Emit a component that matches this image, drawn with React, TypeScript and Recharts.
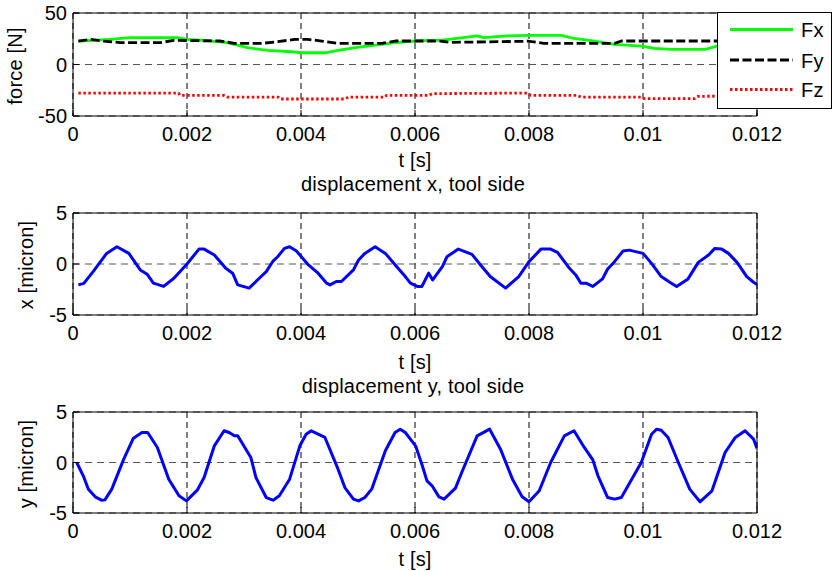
import React from 'react';
import { LineChart, Line, XAxis, YAxis, CartesianGrid } from 'recharts';

// ---------- axis ticks ----------
const timeTicks = [0, 0.002, 0.004, 0.006, 0.008, 0.01, 0.012];
const forceTicks = [-50, 0, 50];
const dispTicks = [-5, 0, 5];

// ---------- force series ----------
const fxTime = [0.000094, 0.00036, 0.00065, 0.001, 0.00183, 0.002, 0.0023, 0.00271, 0.00306, 0.00342, 0.00383, 0.004, 0.00442, 0.00465, 0.00495, 0.0053, 0.00565, 0.006, 0.00624, 0.00644, 0.00674, 0.00709, 0.0072, 0.00762, 0.00797, 0.00856, 0.00879, 0.00915, 0.0095, 0.00997, 0.0102, 0.0105, 0.01109, 0.0113, 0.0116, 0.012];
const fxValue = [22.8, 23.5, 24.4, 26, 26, 24.4, 23.5, 21.2, 16.3, 13.7, 12.4, 11.4, 11.4, 13.7, 16.3, 18.9, 21.2, 22.8, 23.5, 23.5, 25.4, 27.7, 26, 27.7, 28.3, 28.3, 25.4, 22.8, 19.5, 17.9, 15.6, 14.7, 14.7, 17.9, 19, 20];

const fyTime = [0.000094, 0.0003, 0.00054, 0.00083, 0.00153, 0.00177, 0.00259, 0.00283, 0.0033, 0.00359, 0.00389, 0.00412, 0.00436, 0.00465, 0.00542, 0.00565, 0.00644, 0.00662, 0.0079, 0.00797, 0.00826, 0.0095, 0.00962, 0.012];
const fyValue = [22.8, 24.4, 22.8, 21.2, 21.2, 23.5, 22.8, 20.5, 20.5, 22.1, 24.4, 24.4, 22.8, 20.5, 20.5, 22.8, 22.8, 21.5, 22.5, 22.8, 20.5, 20.5, 22.8, 22.8];

const fzTime = [0.000094, 0.00185, 0.00188, 0.00265, 0.00271, 0.0036, 0.00365, 0.00477, 0.00483, 0.00548, 0.0055, 0.00624, 0.0063, 0.00797, 0.00803, 0.00885, 0.00891, 0.00997, 0.01003, 0.0109, 0.01097, 0.012];
const fzValue = [-27.7, -27.7, -30, -30, -31.6, -31.6, -33.5, -33.5, -31.6, -31.6, -30, -30, -28.3, -27.7, -30, -30, -31.6, -31.6, -33.2, -33.2, -30.9, -30.5];

// ---------- displacement x ----------
const dxTime = [0.000094, 0.00019, 0.00036, 0.00059, 0.00077, 0.00098, 0.00118, 0.0013, 0.00141, 0.00159, 0.00177, 0.002, 0.00221, 0.0023, 0.00248, 0.00268, 0.0028, 0.00289, 0.00309, 0.0033, 0.00339, 0.00351, 0.00359, 0.00371, 0.0038, 0.00392, 0.00412, 0.0043, 0.00445, 0.00451, 0.00462, 0.00471, 0.00492, 0.00501, 0.00512, 0.0053, 0.00548, 0.00568, 0.00583, 0.00592, 0.00604, 0.00612, 0.00624, 0.00631, 0.00648, 0.00656, 0.00676, 0.007, 0.00715, 0.00732, 0.00759, 0.00782, 0.008, 0.00821, 0.00838, 0.0085, 0.00871, 0.00882, 0.00891, 0.009, 0.00912, 0.00929, 0.00938, 0.0095, 0.00965, 0.00976, 0.01, 0.01015, 0.01032, 0.01047, 0.01059, 0.01079, 0.01097, 0.01115, 0.01126, 0.01138, 0.0115, 0.01165, 0.01182, 0.01194, 0.012];
const dxValue = [-2.05, -1.9, -0.7, 1.04, 1.69, 1.04, -0.58, -1.0, -1.88, -2.2, -1.4, 0, 1.46, 1.46, 0.88, -0.42, -0.9, -2.05, -2.37, -1.23, -0.75, 0.29, 0.71, 1.53, 1.69, 1.27, -0.03, -0.9, -1.88, -2.05, -1.72, -1.72, -0.58, 0.39, 1.04, 1.69, 1.04, -0.26, -1.23, -1.88, -2.2, -2.2, -0.9, -1.56, -0.26, 0.71, 1.46, 0.94, -0.1, -1.23, -2.37, -1.23, 0.23, 1.46, 1.46, 1.14, -0.42, -1.07, -1.88, -1.88, -2.2, -1.46, -0.49, 0.23, 1.27, 1.36, 1.04, 0.06, -1.23, -1.79, -2.2, -1.46, 0.16, 0.88, 1.53, 1.46, 1.04, 0.16, -1.23, -1.79, -2.0];

// ---------- displacement y ----------
const dyTime = [0.000065, 0.00018, 0.00027, 0.00039, 0.0005, 0.00056, 0.00068, 0.00089, 0.00106, 0.00121, 0.00131, 0.00148, 0.00168, 0.00186, 0.00199, 0.00218, 0.0023, 0.00248, 0.00265, 0.00274, 0.00283, 0.00289, 0.00312, 0.00321, 0.00339, 0.00351, 0.00362, 0.0038, 0.00398, 0.00409, 0.00418, 0.00442, 0.00465, 0.00477, 0.00492, 0.00501, 0.00512, 0.00524, 0.00548, 0.00565, 0.00574, 0.00583, 0.00601, 0.00612, 0.00621, 0.0063, 0.00642, 0.00651, 0.00671, 0.00682, 0.00709, 0.00731, 0.0075, 0.00771, 0.00788, 0.008, 0.00818, 0.00838, 0.00862, 0.00879, 0.00897, 0.00912, 0.00921, 0.00938, 0.0095, 0.00962, 0.00997, 0.01015, 0.01024, 0.01032, 0.01044, 0.01062, 0.01082, 0.011, 0.01121, 0.01144, 0.01162, 0.01179, 0.01194, 0.012];
const dyValue = [0, -1.32, -2.64, -3.4, -3.73, -3.7, -2.64, 0.33, 2.41, 2.97, 2.97, 1.49, -1.65, -3.3, -3.8, -2.74, -1.49, 1.65, 3.14, 2.97, 2.64, 2.64, 0.5, -1.5, -3.47, -3.73, -3.3, -1.65, 1.65, 2.8, 3.14, 2.48, -0.66, -2.48, -3.63, -3.8, -3.47, -2.64, 1.16, 2.97, 3.3, 2.97, 1.65, -0.17, -1.82, -2.31, -3.4, -3.63, -2.54, -0.99, 2.64, 3.3, 1.32, -1.65, -3.4, -3.89, -2.8, 0, 2.64, 3.14, 1.49, 0.26, -1.32, -3.47, -3.63, -3.47, 0, 2.8, 3.3, 3.2, 2.48, 0, -2.64, -3.89, -2.8, 0.99, 2.48, 3.14, 2.31, 1.4];

const toPoints = (ts: number[], vs: number[]) => ts.map((t, i) => ({ t, v: vs[i] }));

const FONT = '"Liberation Sans", Arial, Helvetica, sans-serif';
const FS = 20;

const FX_STYLE = { stroke: '#00ff00', strokeWidth: 2.8 };
const FY_STYLE = { stroke: '#000000', strokeWidth: 2.8, strokeDasharray: '9 3.5' };
const FZ_STYLE = { stroke: '#ff0000', strokeWidth: 2.8, strokeDasharray: '2.5 2.5' };
const DISP_STYLE = { stroke: '#0000ff', strokeWidth: 3 };

// layout of the three panels
const CHART_W = 833;
const PLOT_LEFT = 73;
const PLOT_RIGHT_MARGIN = 76;
const PLOT_TOP_MARGIN = 13;
const X_AXIS_H = 30;

type Series = { name: string; data: { t: number; v: number }[]; style: any };

function Panel({ top, plotHeight, yTicks, series }: { top: number; plotHeight: number; yTicks: number[]; series: Series[] }) {
  const height = PLOT_TOP_MARGIN + plotHeight + X_AXIS_H;
  const tickStyle = { fill: '#000', fontSize: FS, fontFamily: FONT };
  const line = { stroke: '#000', strokeWidth: 1 };
  const yMin = yTicks[0];
  const yMax = yTicks[yTicks.length - 1];
  const tMax = timeTicks[timeTicks.length - 1];
  const plotRight = CHART_W - PLOT_RIGHT_MARGIN;
  return (
    <div style={{ position: 'absolute', left: 0, top, width: CHART_W, height }}>
      <LineChart width={CHART_W} height={height} margin={{ top: PLOT_TOP_MARGIN, right: PLOT_RIGHT_MARGIN, bottom: 0, left: 0 }}>
        <CartesianGrid horizontal={false} vertical stroke="#000" strokeDasharray="6 4" />
        <CartesianGrid horizontal vertical={false} stroke="#555" strokeDasharray="7 5" />
        <XAxis dataKey="t" type="number" domain={[0, tMax]} ticks={timeTicks} interval={0} allowDataOverflow
          height={X_AXIS_H} tickSize={-6} tickMargin={17} tick={tickStyle} axisLine={line} tickLine={line} />
        <YAxis type="number" domain={[yMin, yMax]} ticks={yTicks} interval={0} allowDataOverflow
          width={PLOT_LEFT} tickSize={-6} tickMargin={12} tick={tickStyle} axisLine={line} tickLine={line} />
        {series.map((s) => (
          <Line key={s.name} name={s.name} data={s.data} dataKey="v" type="linear" dot={false} activeDot={false}
            isAnimationActive={false} strokeLinejoin="round" {...s.style} />
        ))}
      </LineChart>
      {/* top and right edges of the axes box */}
      <svg width={CHART_W} height={height} style={{ position: 'absolute', left: 0, top: 0, pointerEvents: 'none' }}>
        <polyline points={`${PLOT_LEFT},${PLOT_TOP_MARGIN} ${plotRight},${PLOT_TOP_MARGIN} ${plotRight},${PLOT_TOP_MARGIN + plotHeight}`}
          fill="none" stroke="#000" strokeWidth={1} />
      </svg>
    </div>
  );
}

export default function App() {
  const forceSeries: Series[] = [
    { name: 'Fx', data: toPoints(fxTime, fxValue), style: FX_STYLE },
    { name: 'Fy', data: toPoints(fyTime, fyValue), style: FY_STYLE },
    { name: 'Fz', data: toPoints(fzTime, fzValue), style: FZ_STYLE },
  ];
  const dxSeries: Series[] = [{ name: 'x', data: toPoints(dxTime, dxValue), style: DISP_STYLE }];
  const dySeries: Series[] = [{ name: 'y', data: toPoints(dyTime, dyValue), style: DISP_STYLE }];
  const txt = { fontFamily: FONT, fontSize: FS, fill: '#000', letterSpacing: 0.2 };
  return (
    <div style={{ position: 'absolute', left: 0, top: 0, width: 833, height: 571, background: '#fff', fontFamily: FONT }}>
      <Panel top={0} plotHeight={103} yTicks={forceTicks} series={forceSeries} />
      <Panel top={200} plotHeight={102} yTicks={dispTicks} series={dxSeries} />
      <Panel top={399} plotHeight={101} yTicks={dispTicks} series={dySeries} />
      <svg width={833} height={571} style={{ position: 'absolute', left: 0, top: 0, pointerEvents: 'none' }}>
        <text {...txt} x={415} y={166.5} textAnchor="middle">t [s]</text>
        <text {...txt} x={413} y={191} textAnchor="middle">displacement x, tool side</text>
        <text {...txt} x={415} y={369} textAnchor="middle">t [s]</text>
        <text {...txt} x={413} y={393} textAnchor="middle">displacement y, tool side</text>
        <text {...txt} x={415} y={566} textAnchor="middle">t [s]</text>
        <text {...txt} textAnchor="middle" transform="translate(22,66) rotate(-90)">force [N]</text>
        <text {...txt} textAnchor="middle" transform="translate(33,265) rotate(-90)">x [micron]</text>
        <text {...txt} textAnchor="middle" transform="translate(33,464) rotate(-90)">y [micron]</text>
        <rect x={717.5} y={12.5} width={114} height={96} fill="#fff" stroke="#000" strokeWidth={1} />
        <line x1={730} x2={793} y1={29.5} y2={29.5} {...FX_STYLE} />
        <line x1={730} x2={793} y1={60} y2={60} {...FY_STYLE} />
        <line x1={730} x2={793} y1={89.5} y2={89.5} {...FZ_STYLE} />
        <text {...txt} x={801} y={37}>Fx</text>
        <text {...txt} x={801} y={67.5}>Fy</text>
        <text {...txt} x={801} y={97}>Fz</text>
      </svg>
    </div>
  );
}
